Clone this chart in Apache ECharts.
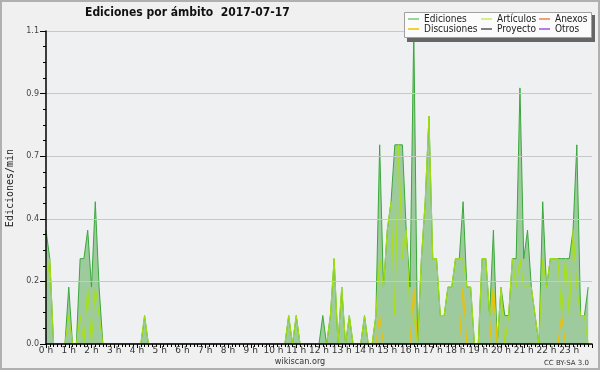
<!DOCTYPE html>
<html>
<head>
<meta charset="utf-8">
<script src="https://cdn.jsdelivr.net/npm/echarts@6/dist/echarts.min.js"></script>
<style>
html, body { margin: 0; padding: 0; background: #f0f0f0; }
#chart { width: 600px; height: 370px; }
</style>
</head>
<body>
<div id="chart"></div>
<script>
// ticks del eje x (horas) y del eje y
var hourLabels = ['0 h', '1 h', '2 h', '3 h', '4 h', '5 h', '6 h', '7 h', '8 h', '9 h', '10 h', '11 h',
	'12 h', '13 h', '14 h', '15 h', '16 h', '17 h', '18 h', '19 h', '20 h', '21 h', '22 h', '23 h'];
var yTickLabels = ['0.0', '0.2', '0.4', '0.7', '0.9', '1.1'];

// ediciones/min por tramo de 10 minutos (12 tramos = 2 horas por fila)
var ediciones = [
	0.4, 0.3, 0, 0, 0, 0, 0.2, 0, 0, 0.3, 0.3, 0.4,
	0.2, 0.5, 0.2, 0, 0, 0, 0, 0, 0, 0, 0, 0,
	0, 0, 0.1, 0, 0, 0, 0, 0, 0, 0, 0, 0,
	0, 0, 0, 0, 0, 0, 0, 0, 0, 0, 0, 0,
	0, 0, 0, 0, 0, 0, 0, 0, 0, 0, 0, 0,
	0, 0, 0, 0, 0.1, 0, 0.1, 0, 0, 0, 0, 0,
	0, 0.1, 0, 0.1, 0.3, 0, 0.2, 0, 0.1, 0, 0, 0,
	0.1, 0, 0, 0.1, 0.7, 0.2, 0.4, 0.5, 0.7, 0.7, 0.7, 0.4,
	0.2, 1.1, 0, 0.3, 0.5, 0.8, 0.3, 0.3, 0.1, 0.1, 0.2, 0.2,
	0.3, 0.3, 0.5, 0.2, 0.2, 0, 0, 0.3, 0.3, 0.1, 0.4, 0,
	0.2, 0.1, 0.1, 0.3, 0.3, 0.9, 0.3, 0.4, 0.2, 0.1, 0, 0.5,
	0.2, 0.3, 0.3, 0.3, 0.3, 0.3, 0.3, 0.4, 0.7, 0.1, 0.1, 0.2
];
var articulos = [
	0.2, 0.3, 0, 0, 0, 0, 0.1, 0, 0, 0.1, 0, 0.2,
	0, 0.2, 0.1, 0, 0, 0, 0, 0, 0, 0, 0, 0,
	0, 0, 0.1, 0, 0, 0, 0, 0, 0, 0, 0, 0,
	0, 0, 0, 0, 0, 0, 0, 0, 0, 0, 0, 0,
	0, 0, 0, 0, 0, 0, 0, 0, 0, 0, 0, 0,
	0, 0, 0, 0, 0.1, 0, 0.1, 0, 0, 0, 0, 0,
	0, 0, 0, 0.1, 0.3, 0, 0.2, 0, 0.1, 0, 0, 0,
	0.1, 0, 0, 0.1, 0.3, 0.2, 0.4, 0.5, 0.1, 0.7, 0.3, 0.4,
	0.1, 0.1, 0, 0.3, 0.5, 0.8, 0.3, 0.3, 0.1, 0.1, 0.2, 0.2,
	0.3, 0.3, 0.3, 0.2, 0.2, 0, 0, 0.3, 0.3, 0.1, 0.2, 0,
	0.2, 0, 0.1, 0.3, 0.2, 0.3, 0.2, 0.2, 0.2, 0.1, 0, 0.3,
	0.2, 0.3, 0.3, 0.3, 0.1, 0.3, 0.1, 0.4, 0.2, 0.1, 0.1, 0
];
var discusiones = [
	0, 0, 0, 0, 0, 0, 0, 0, 0, 0, 0, 0,
	0, 0, 0, 0, 0, 0, 0, 0, 0, 0, 0, 0,
	0, 0, 0, 0, 0, 0, 0, 0, 0, 0, 0, 0,
	0, 0, 0, 0, 0, 0, 0, 0, 0, 0, 0, 0,
	0, 0, 0, 0, 0, 0, 0, 0, 0, 0, 0, 0,
	0, 0, 0, 0, 0, 0, 0, 0, 0, 0, 0, 0,
	0, 0, 0, 0, 0, 0, 0, 0, 0, 0, 0, 0,
	0, 0, 0, 0, 0.1, 0, 0, 0, 0, 0, 0, 0,
	0, 0.2, 0, 0, 0, 0, 0, 0, 0, 0, 0, 0,
	0, 0, 0.2, 0, 0, 0, 0, 0, 0, 0, 0.2, 0,
	0, 0, 0, 0, 0, 0, 0, 0, 0, 0, 0, 0,
	0, 0, 0, 0, 0.1, 0, 0, 0, 0, 0, 0, 0
];
// anexos, proyecto y otros no asoman en la imagen
var sinEdiciones = [
	0, 0, 0, 0, 0, 0, 0, 0, 0, 0, 0, 0,
	0, 0, 0, 0, 0, 0, 0, 0, 0, 0, 0, 0,
	0, 0, 0, 0, 0, 0, 0, 0, 0, 0, 0, 0,
	0, 0, 0, 0, 0, 0, 0, 0, 0, 0, 0, 0,
	0, 0, 0, 0, 0, 0, 0, 0, 0, 0, 0, 0,
	0, 0, 0, 0, 0, 0, 0, 0, 0, 0, 0, 0,
	0, 0, 0, 0, 0, 0, 0, 0, 0, 0, 0, 0,
	0, 0, 0, 0, 0, 0, 0, 0, 0, 0, 0, 0,
	0, 0, 0, 0, 0, 0, 0, 0, 0, 0, 0, 0,
	0, 0, 0, 0, 0, 0, 0, 0, 0, 0, 0, 0,
	0, 0, 0, 0, 0, 0, 0, 0, 0, 0, 0, 0,
	0, 0, 0, 0, 0, 0, 0, 0, 0, 0, 0, 0
];
var anexos = sinEdiciones, proyecto = sinEdiciones, otros = sinEdiciones;

function toPoints(arr) {
	return arr.map(function(v, i) { return [i / 6, v]; });
}

var fontTxt = "'DejaVu Sans Condensed', 'DejaVu Sans'";

function lineSerie(name, data, color, z) {
	return {
		name: name,
		type: 'line',
		data: toPoints(data),
		showSymbol: false,
		symbol: 'none',
		z: z,
		itemStyle: { color: color },
		lineStyle: { color: color, width: 1 }
	};
}

function legendCol(left, names) {
	return {
		left: left, top: 14, orient: 'vertical', padding: 0, itemGap: 0, z: 30,
		itemWidth: 11, itemHeight: 1.5, icon: 'rect',
		textStyle: { fontFamily: fontTxt, fontSize: 10, lineHeight: 10, color: '#222' },
		data: names
	};
}

var chart = echarts.init(document.getElementById('chart'));
chart.setOption({
	animation: false,
	backgroundColor: '#f0f0f0',
	title: {
		text: 'Ediciones por ámbito  2017-07-17',
		left: 85,
		top: 7,
		padding: 0,
		textStyle: { fontFamily: fontTxt, fontWeight: 'bold', fontSize: 12, color: '#111' }
	},
	legend: [
		legendCol(408, [{ name: 'Ediciones', itemStyle: { color: '#7cc87c' } }, 'Discusiones']),
		legendCol(481, [{ name: 'Artículos', itemStyle: { color: '#c8ec5a' } }, 'Proyecto']),
		legendCol(539, ['Anexos', 'Otros'])
	],
	grid: {
		left: 46, right: 8, top: 31, bottom: 26,
		show: true, backgroundColor: '#eef0f2', borderWidth: 0
	},
	xAxis: {
		type: 'value',
		min: 0,
		max: 24,
		interval: 1,
		z: 10,
		axisLine: { lineStyle: { color: '#000', width: 1.5 } },
		axisTick: { length: 4, lineStyle: { color: '#000' } },
		minorTick: { show: true, splitNumber: 6, length: 3, lineStyle: { color: '#000' } },
		splitLine: { show: false },
		axisLabel: {
			margin: 2, fontSize: 9, color: '#333', fontFamily: 'DejaVu Sans',
			showMaxLabel: false,
			formatter: function(v) { return hourLabels[Math.round(v)] || ''; }
		}
	},
	yAxis: {
		type: 'value',
		min: 0,
		max: 1.1,
		interval: 0.22,
		z: 10,
		axisLine: { show: true, lineStyle: { color: '#000', width: 1.5 } },
		axisTick: { show: true, length: 6, lineStyle: { color: '#000' } },
		minorTick: { show: true, splitNumber: 4, length: 3, lineStyle: { color: '#000' } },
		splitLine: { lineStyle: { color: '#c8c8c8' } },
		axisLabel: {
			margin: 7, fontSize: 8, color: '#444', fontFamily: 'DejaVu Sans',
			formatter: function(v) { return yTickLabels[Math.round(v / 0.22)]; }
		}
	},
	graphic: [
		{ type: 'rect', shape: { x: 1, y: 1, width: 598, height: 368 }, style: { fill: 'none', stroke: '#b0b0b0', lineWidth: 2 }, z: 100 },
		{ type: 'rect', shape: { x: 407, y: 15, width: 188, height: 27 }, style: { fill: '#666' }, z: 20 },
		{ type: 'rect', shape: { x: 404.5, y: 12.5, width: 187, height: 25 }, style: { fill: '#fbfbfb', stroke: '#a0a0a0', lineWidth: 1 }, z: 21 },
		{ type: 'text', x: 10, y: 188, rotation: Math.PI / 2,
			style: { text: 'Ediciones/min', font: "10px 'DejaVu Sans Mono'", fill: '#222', align: 'center', verticalAlign: 'middle' } },
		{ type: 'text', x: 300, y: 362,
			style: { text: 'wikiscan.org', font: "9px " + fontTxt, fill: '#333', align: 'center', verticalAlign: 'middle' } },
		{ type: 'text', x: 589, y: 363,
			style: { text: 'CC BY-SA 3.0', font: "7px 'DejaVu Sans'", fill: '#333', align: 'right', verticalAlign: 'middle' } }
	],
	series: [
		{
			name: 'Ediciones',
			type: 'line',
			data: toPoints(ediciones),
			showSymbol: false,
			symbol: 'none',
			z: 2,
			itemStyle: { color: '#3aa83a' },
			lineStyle: { color: '#3aa83a', width: 1 },
			areaStyle: { color: '#9ecb9e', opacity: 1 }
		},
		lineSerie('Anexos', anexos, '#f08050', 3),
		lineSerie('Proyecto', proyecto, '#555555', 3),
		lineSerie('Otros', otros, '#9955ee', 3),
		lineSerie('Artículos', articulos, '#a8e010', 4),
		lineSerie('Discusiones', discusiones, '#f0c000', 5)
	]
});
</script>
</body>
</html>
